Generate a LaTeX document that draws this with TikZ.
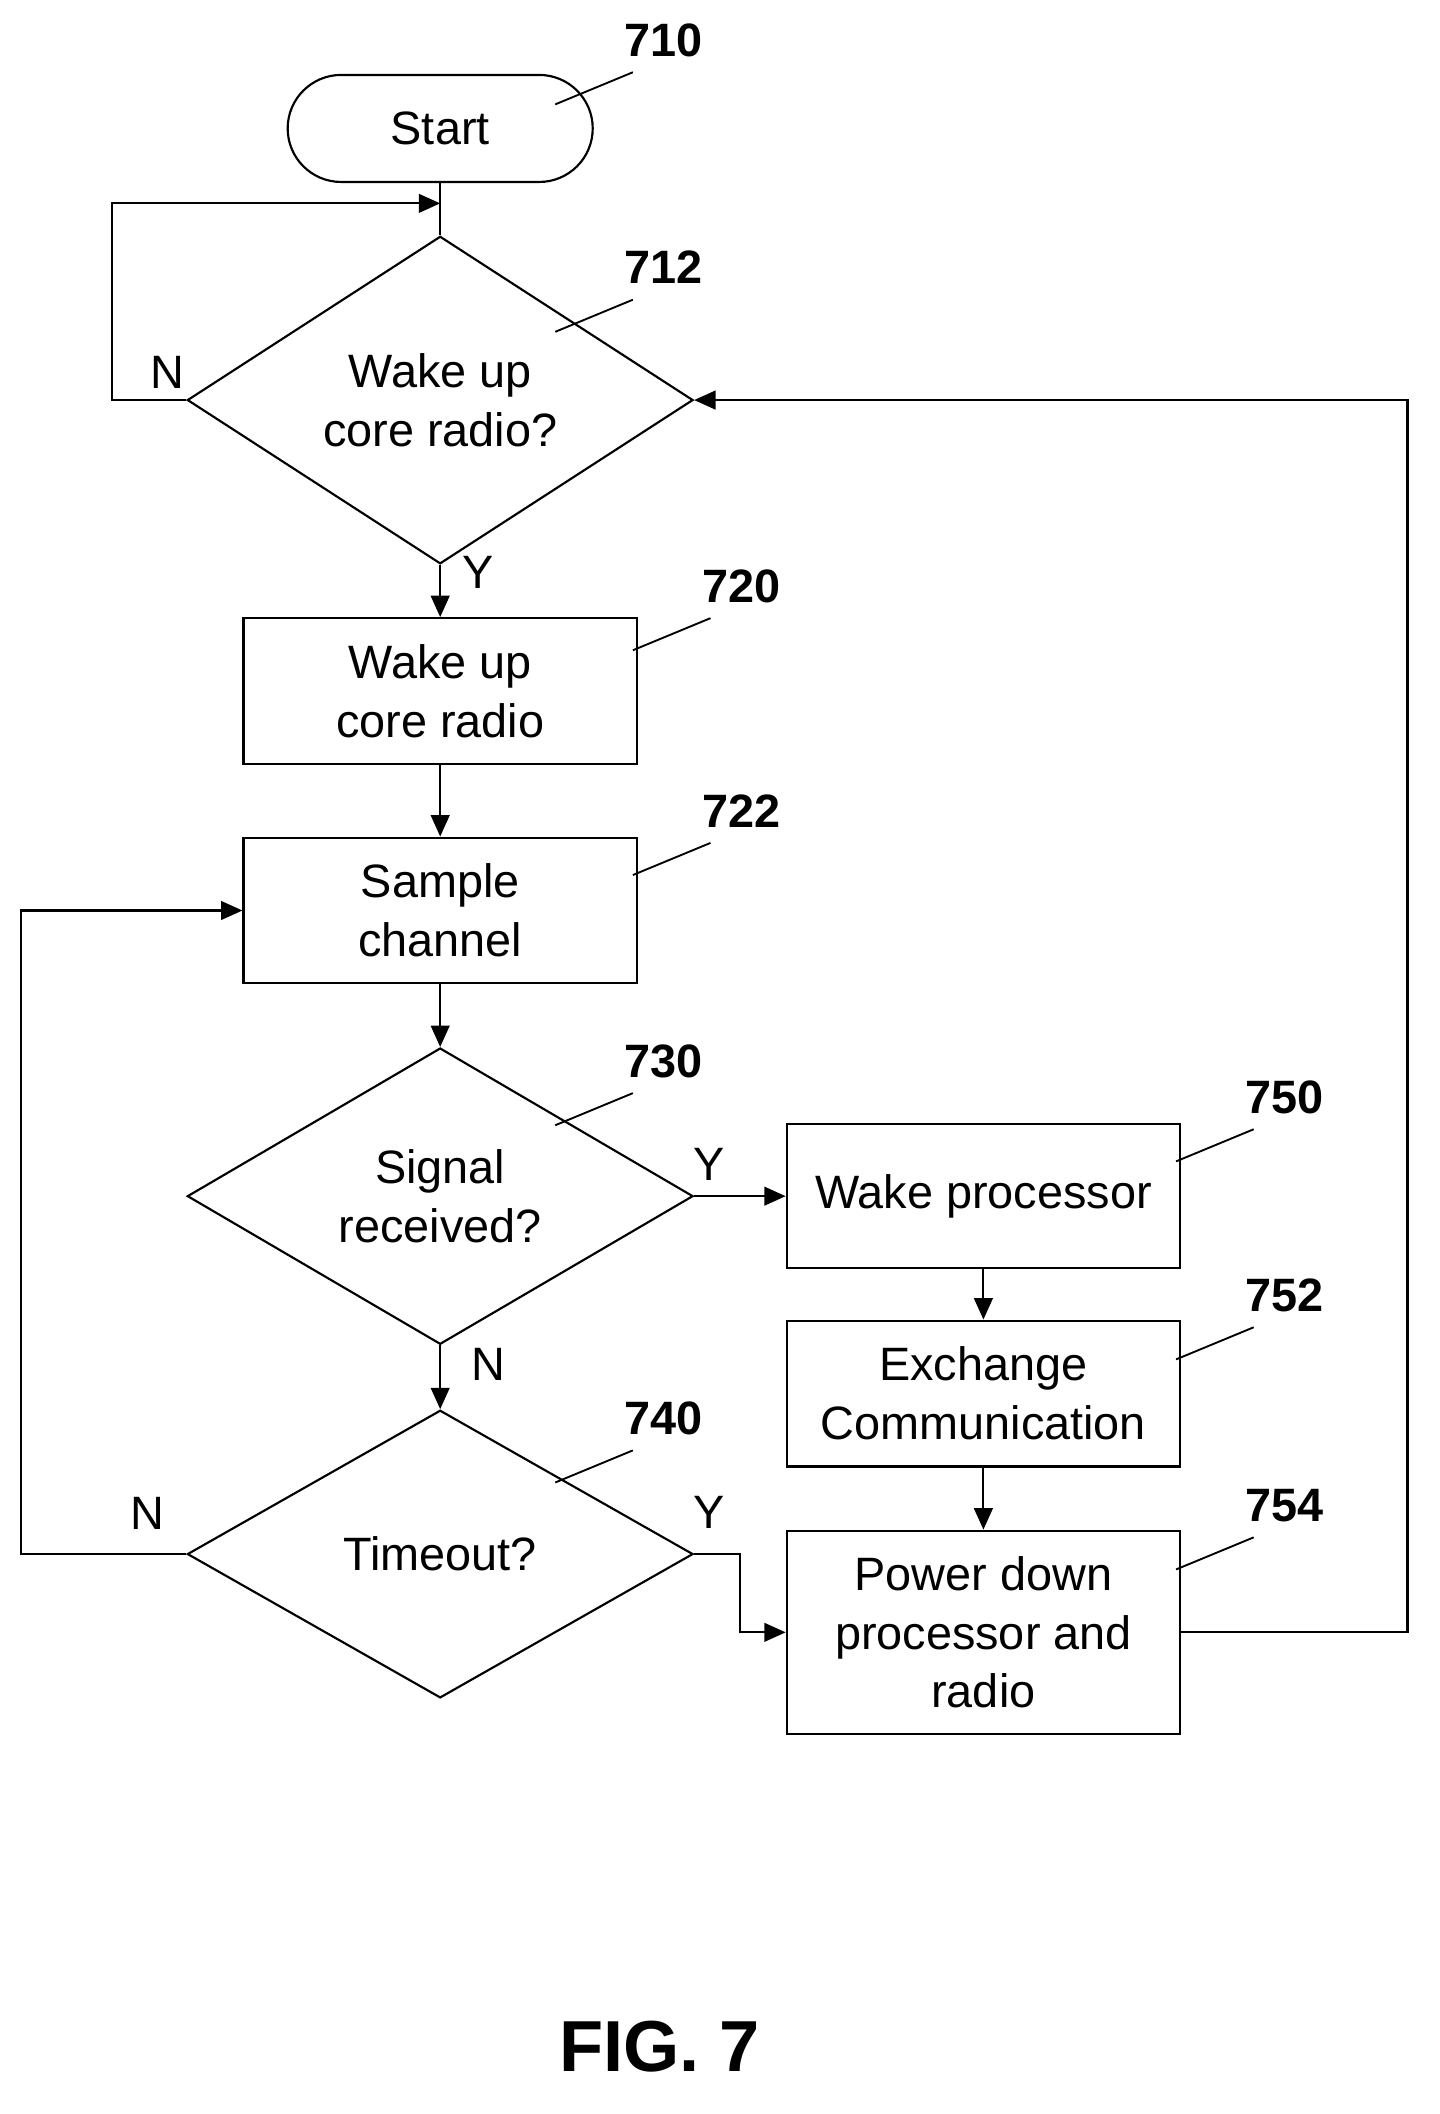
\documentclass[tikz,border=0pt]{standalone}
\usepackage{fontspec}
\setmainfont{Liberation Sans}
\usetikzlibrary{shapes.geometric,arrows.meta}
\begin{document}
\begin{tikzpicture}[x=0.5pt,y=-0.5pt,
  every node/.style={font=\fontsize{17.5}{22}\selectfont},
  box/.style={draw,line width=0.8pt,minimum width=147pt,align=center,inner sep=0pt},
  dia/.style={draw,diamond,line width=0.8pt,minimum width=189pt,minimum height=107.5pt,align=center,inner sep=0pt},
  ln/.style={line width=0.8pt},
  arr/.style={ln,-{Triangle[length=8pt,width=7pt]}},
  lab/.style={font=\fontsize{17.5}{22}\selectfont\bfseries},
  lead/.style={line width=0.7pt}]
\useasboundingbox (0,0) rectangle (1076,1580);
\node[draw,line width=0.8pt,rounded corners=20pt,minimum width=114pt,minimum height=40pt] (s) at (329,96) {Start};
\node[dia] (d1) at (329,299) {Wake up\\core radio?};
\node[box,minimum height=54.5pt] (b720) at (329,516.5) {Wake up\\core radio};
\node[box,minimum height=54.5pt] (b722) at (329,680.5) {Sample\\channel};
\node[dia] (d2) at (329,894) {Signal\\received?};
\node[dia] (d3) at (329,1161.5) {Timeout?};
\node[box,minimum height=54pt] (b750) at (735,894) {Wake processor};
\node[box,minimum height=54.5pt] (b752) at (735,1041.5) {Exchange\\Communication};
\node[box,minimum height=76pt] (b754) at (735,1220) {Power down\\processor and\\radio};
\coordinate (j1) at (329,152);
\coordinate (c1) at (84,299); \coordinate (c2) at (84,152);
\draw[ln] (s) -- (d1);
\draw[arr] (d1.west) -- (c1) -- (c2) -- (j1);
\draw[arr] (d1) -- (b720);
\draw[arr] (b720) -- (b722);
\draw[arr] (b722) -- (d2);
\draw[arr] (d2) -- (b750);
\draw[arr] (b750) -- (b752);
\draw[arr] (b752) -- (b752|-b754.north);
\draw[arr] (d2) -- (d3);
\coordinate (c3) at (16,1161.5); \coordinate (c4) at (16,680.5);
\draw[arr] (d3.west) -- (c3) -- (c4) -- (b722.west);
\coordinate (c5) at (553,1161.5); \coordinate (c6) at (553,1220);
\draw[arr] (d3.east) -- (c5) -- (c6) -- (b754.west);
\coordinate (c7) at (1052,1220); \coordinate (c8) at (1052,299);
\draw[arr] (b754.east) -- (c7) -- (c8) -- (d1.east);
\node (n1) at (125,278) {N};
\node (y1) at (357,428) {Y};
\node (y2) at (530,870) {Y};
\node (n2) at (365,1020) {N};
\node (n3) at (110,1131) {N};
\node (y3) at (530,1130) {Y};
\foreach \t/\x/\y in {710/496/30,712/496/200,720/554/438,722/554/606,730/496/793,750/960/820,752/960/968,740/496/1060,754/960/1125}{
  \node[lab] (l\t) at (\x,\y) {\t};
  \coordinate (la\t) at (\x-81,\y+48); \coordinate (lb\t) at (\x-23,\y+24);
  \draw[lead] (la\t) -- (lb\t);}
\node[font=\fontsize{27}{30}\selectfont\bfseries] (fig) at (493,1530) {FIG. 7};
\end{tikzpicture}
\end{document}
